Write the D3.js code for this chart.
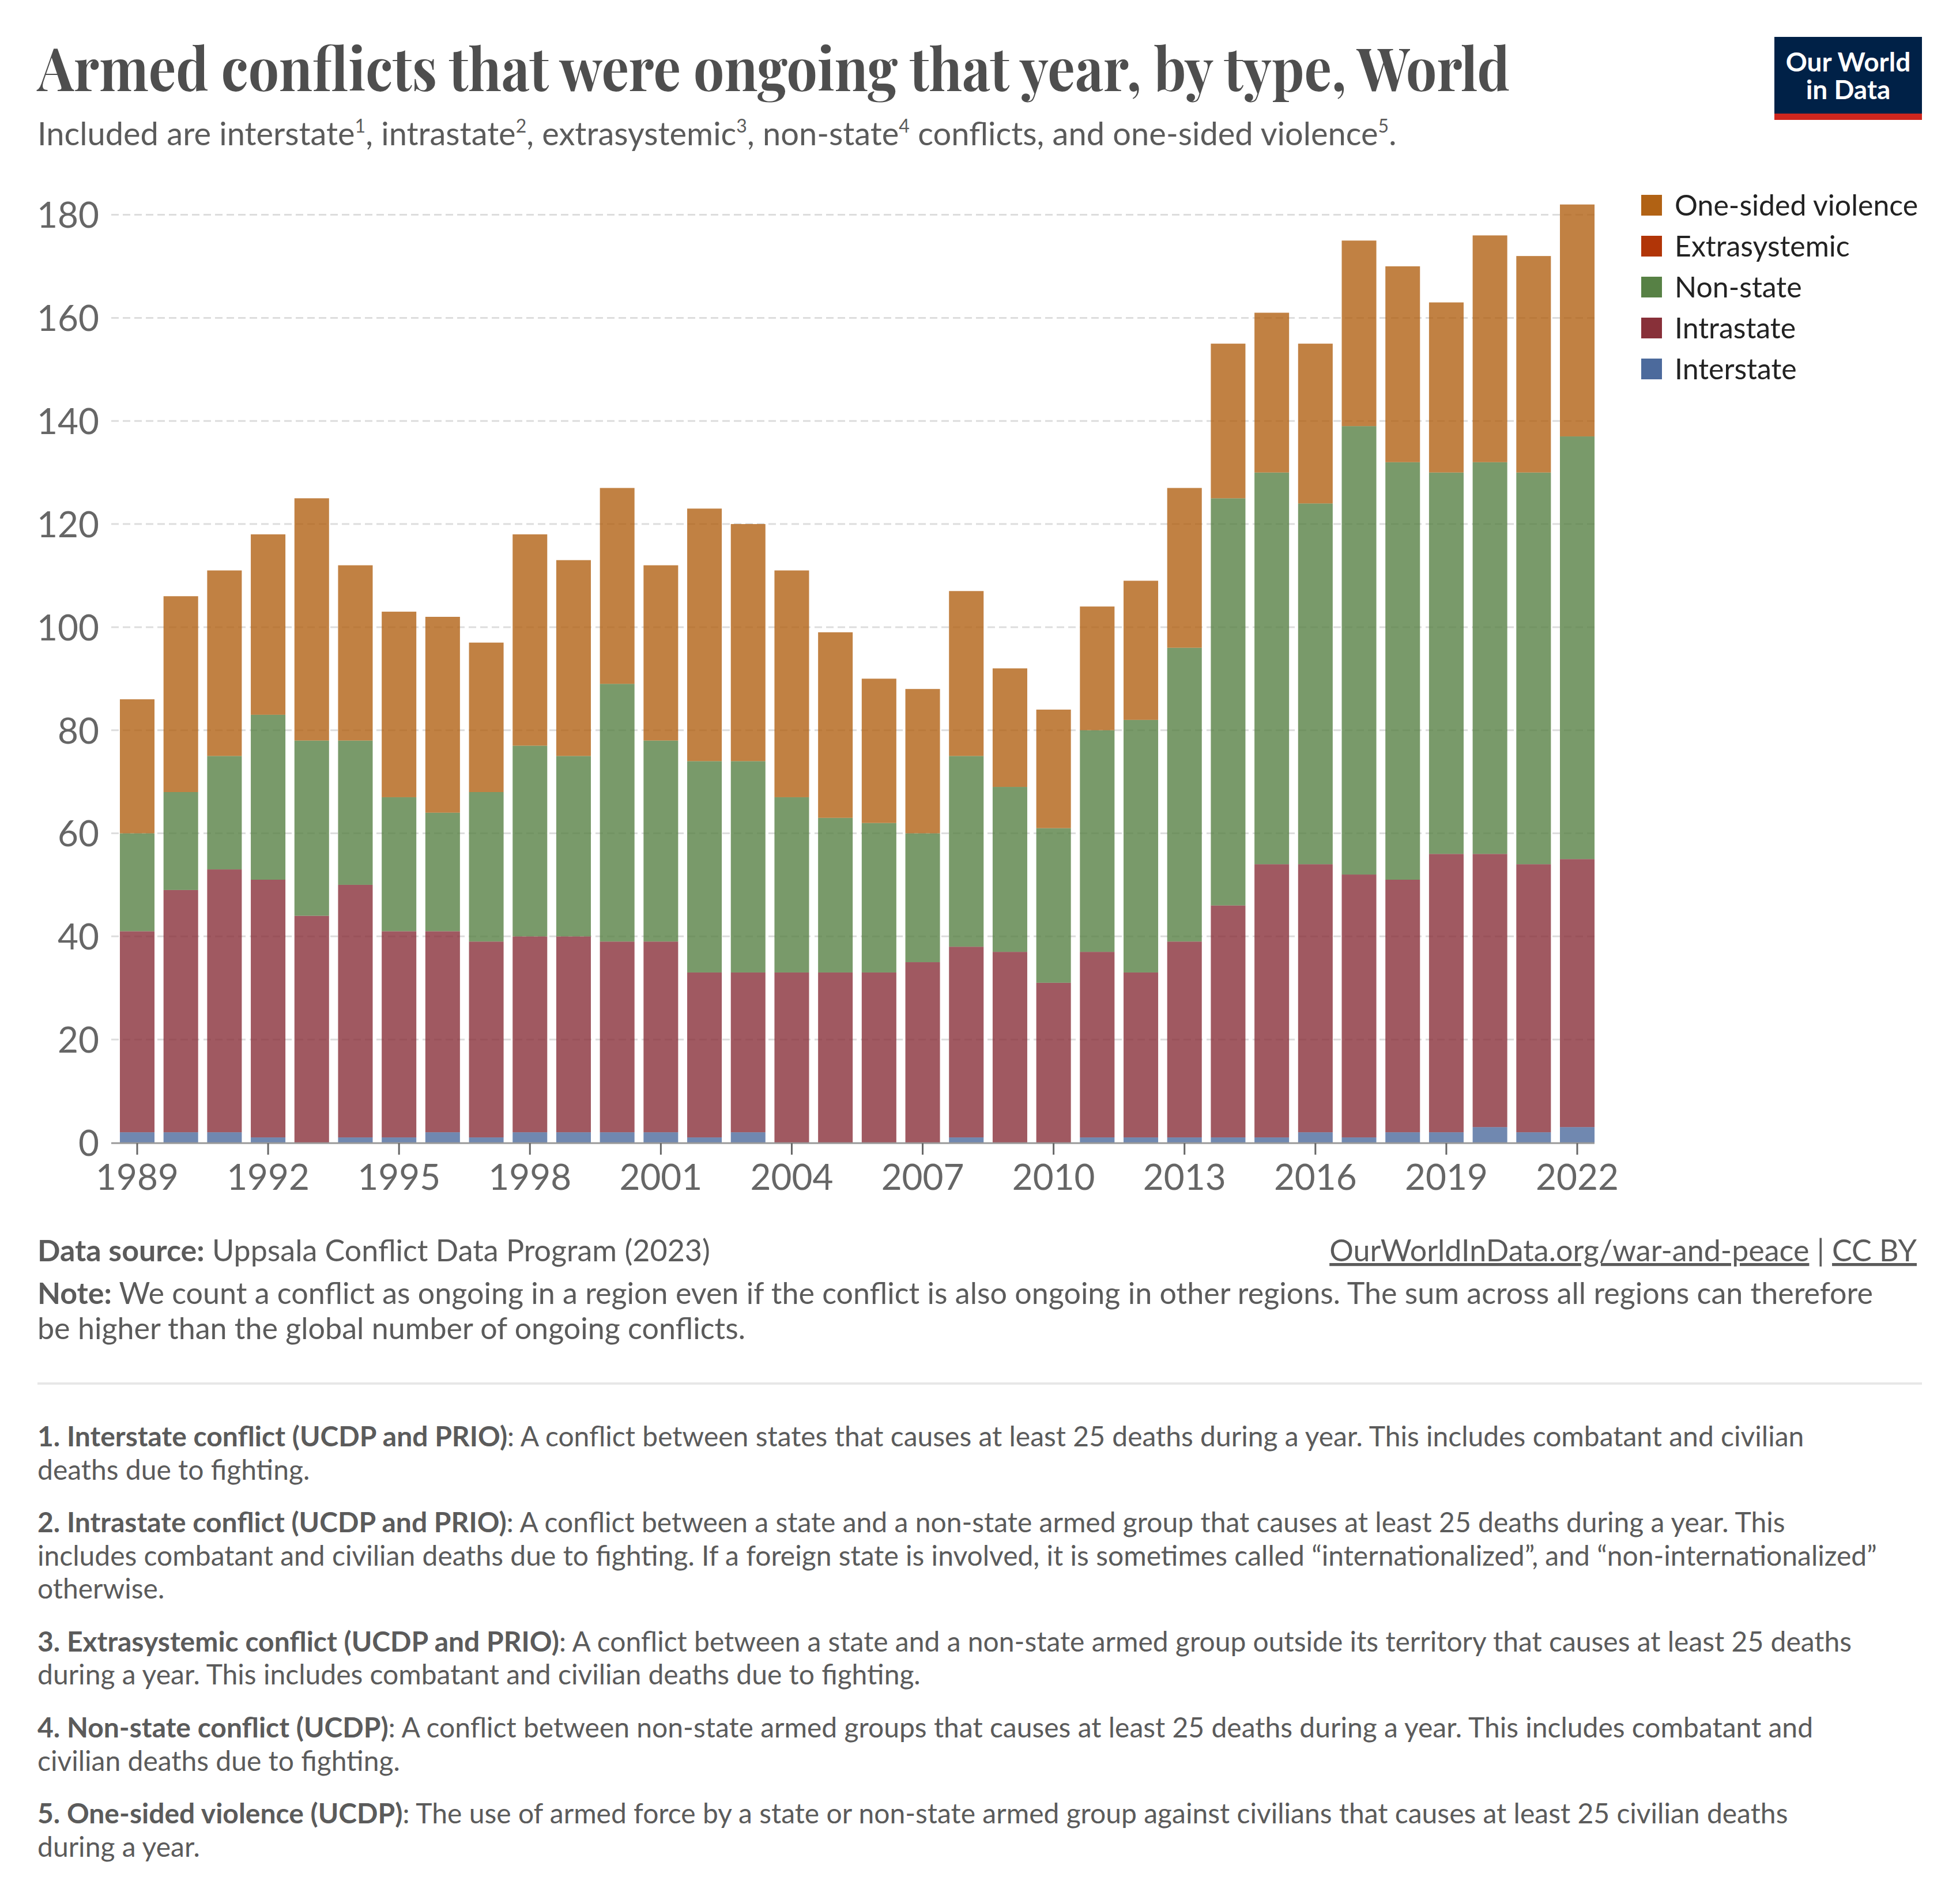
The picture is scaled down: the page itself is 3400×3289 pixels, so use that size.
<!DOCTYPE html>
<html><head><meta charset="utf-8">
<script src="https://cdn.jsdelivr.net/npm/d3@7/dist/d3.min.js"></script>
<style>body{margin:0;background:#fff} svg{display:block}</style>
</head><body>
<svg id="chart" width="3400" height="3289"></svg>
<script>
// ---- Data ----
const years = [1989,1990,1991,1992,1993,1994,1995,1996,1997,1998,1999,2000,2001,2002,2003,2004,2005,2006,2007,2008,2009,2010,2011,2012,2013,2014,2015,2016,2017,2018,2019,2020,2021,2022];
const interstate    = [2,2,2,1,0,1,1,2,1,2,2,2,2,1,2,0,0,0,0,1,0,0,1,1,1,1,1,2,1,2,2,3,2,3];
const intrastate    = [39,47,51,50,44,49,40,39,38,38,38,37,37,32,31,33,33,33,35,37,37,31,36,32,38,45,53,52,51,49,54,53,52,52];
const extrasystemic = [0,0,0,0,0,0,0,0,0,0,0,0,0,0,0,0,0,0,0,0,0,0,0,0,0,0,0,0,0,0,0,0,0,0];
const nonState      = [19,19,22,32,34,28,26,23,29,37,35,50,39,41,41,34,30,29,25,37,32,30,43,49,57,79,76,70,87,81,74,76,76,82];
const oneSided      = [26,38,36,35,47,34,36,38,29,41,38,38,34,49,46,44,36,28,28,32,23,23,24,27,31,30,31,31,36,38,33,44,42,45];
const seriesKeys   = ["Interstate","Intrastate","Extrasystemic","Non-state","One-sided violence"];
const seriesColors = ["#4C6A9C","#883039","#B13507","#578145","#B16214"];
const yTicks = [0,20,40,60,80,100,120,140,160,180];
const xTickYears = [1989,1992,1995,1998,2001,2004,2007,2010,2013,2016,2019,2022];

const seriesValues = [interstate, intrastate, extrasystemic, nonState, oneSided];
const table = years.map((yr,i)=>{
  const row = {year: yr};
  seriesKeys.forEach((k,j)=>row[k]=seriesValues[j][i]);
  return row;
});

const svg = d3.select("#chart");
const W = 3400, H = 3289;
svg.append("rect").attr("width",W).attr("height",H).attr("fill","#fff");

const FONT = "Lato, 'Noto Sans', sans-serif";
const TXT = "#5b5b5b";

// ---- Header ----
svg.append("text").attr("x",65).attr("y",158)
  .attr("font-family","'Playfair Display', 'Liberation Serif', 'DejaVu Serif', serif")
  .attr("font-weight",700).attr("font-size",104).attr("fill","#4e4e4e")
  .attr("textLength",2554).attr("lengthAdjust","spacingAndGlyphs")
  .text("Armed conflicts that were ongoing that year, by type, World");

const sub = svg.append("text").attr("x",65).attr("y",252)
  .attr("font-family",FONT).attr("font-size",56).attr("fill",TXT);
const subParts = [["Included are interstate","1"],[", intrastate","2"],[", extrasystemic","3"],[", non-state","4"],[" conflicts, and one-sided violence","5"],[".",null]];
let raised = false;
subParts.forEach(([t,s])=>{
  const ts = sub.append("tspan").text(t);
  if(raised){ ts.attr("dy",22); raised=false; }
  if(s){ sub.append("tspan").attr("dy",-22).attr("font-size",32).text(s); raised = true; }
});

// Logo
const logo = svg.append("g");
logo.append("rect").attr("x",3078).attr("y",64).attr("width",256).attr("height",144).attr("fill","#002147");
logo.append("rect").attr("x",3078).attr("y",197).attr("width",256).attr("height",11).attr("fill","#ce261e");
logo.append("text").attr("x",3206).attr("y",124).attr("text-anchor","middle")
  .attr("font-family",FONT).attr("font-weight",700).attr("font-size",46).attr("fill","#fff").text("Our World");
logo.append("text").attr("x",3206).attr("y",172).attr("text-anchor","middle")
  .attr("font-family",FONT).attr("font-weight",700).attr("font-size",46).attr("fill","#fff").text("in Data");

// ---- Scales ----
const x = d3.scaleBand().domain(years).range([200.4, 2773.6]).paddingInner(0.207).paddingOuter(0.1);
const y = d3.scaleLinear().domain([0,180]).range([1982, 372.6]);
const xLeft = 193, xRight = 2766;

// Gridlines
const grid = svg.append("g");
yTicks.filter(t=>t>0).forEach(t=>{
  grid.append("line").attr("x1",xLeft).attr("x2",xRight).attr("y1",y(t)).attr("y2",y(t))
    .attr("stroke","#dddddd").attr("stroke-width",3).attr("stroke-dasharray","13,7");
});

// Y axis labels
const yAxis = d3.axisLeft(y).tickValues(yTicks).tickSize(0).tickPadding(0);
const yg = svg.append("g").attr("transform",`translate(172,0)`).call(yAxis);
yg.select(".domain").remove();
yg.selectAll("text").attr("font-family",FONT).attr("font-size",62).attr("fill","#666").attr("dy","0.36em");

// Bars
const stack = d3.stack().keys(seriesKeys)(table);
svg.append("g").selectAll("g").data(stack).join("g")
  .attr("fill",(d,i)=>seriesColors[i]).attr("fill-opacity",0.8)
  .selectAll("rect").data(d=>d).join("rect")
  .attr("x",d=>x(d.data.year)).attr("width",x.bandwidth())
  .attr("y",d=>y(d[1])).attr("height",d=>Math.max(0,y(d[0])-y(d[1])));

// X axis
svg.append("line").attr("x1",xLeft).attr("x2",xRight).attr("y1",1983).attr("y2",1983)
  .attr("stroke","#999").attr("stroke-width",3);
const xAxis = d3.axisBottom(x).tickValues(xTickYears).tickSize(20).tickPadding(8);
const xg = svg.append("g").attr("transform","translate(0,1983)").call(xAxis);
xg.select(".domain").remove();
xg.selectAll(".tick line").attr("stroke","#666").attr("stroke-width",3);
xg.selectAll("text").attr("font-family",FONT).attr("font-size",62).attr("fill","#666").attr("dy","0.85em");

// Legend
const legendOrder = [4,2,3,1,0];
legendOrder.forEach((si,k)=>{
  const ty = 338 + k*71;
  svg.append("rect").attr("x",2847).attr("y",ty).attr("width",36).attr("height",36).attr("fill",seriesColors[si]);
  svg.append("text").attr("x",2905).attr("y",ty+18).attr("dy","0.36em")
    .attr("font-family",FONT).attr("font-size",50).attr("fill","#222").text(seriesKeys[si]);
});

// ---- Footer ----
function richLine(xp, yp, size, parts, anchor){
  const t = svg.append("text").attr("x",xp).attr("y",yp).attr("font-family",FONT)
    .attr("font-size",size).attr("fill",TXT).attr("text-anchor",anchor||"start");
  parts.forEach(p=>{
    const ts = t.append("tspan").text(p.t);
    if(p.b) ts.attr("font-weight",700);
    if(p.u) ts.attr("text-decoration","underline");
  });
  return t;
}
richLine(65,2188,52,[{t:"Data source:",b:1},{t:" Uppsala Conflict Data Program (2023)"}]);
richLine(3325,2188,52,[{t:"OurWorldInData.org/war-and-peace",u:1},{t:" | "},{t:"CC BY",u:1}],"end");
richLine(65,2262,52,[{t:"Note:",b:1},{t:" We count a conflict as ongoing in a region even if the conflict is also ongoing in other regions. The sum across all regions can therefore"}]);
richLine(65,2323,52,[{t:"be higher than the global number of ongoing conflicts."}]);

svg.append("line").attr("x1",65).attr("x2",3334).attr("y1",2400).attr("y2",2400)
  .attr("stroke","#e7e7e7").attr("stroke-width",4);

const notes = [
  {b:"1. Interstate conflict (UCDP and PRIO)", lines:[": A conflict between states that causes at least 25 deaths during a year. This includes combatant and civilian","deaths due to fighting."], y:[2509,2567]},
  {b:"2. Intrastate conflict (UCDP and PRIO)", lines:[": A conflict between a state and a non-state armed group that causes at least 25 deaths during a year. This","includes combatant and civilian deaths due to fighting. If a foreign state is involved, it is sometimes called \u201cinternationalized\u201d, and \u201cnon-internationalized\u201d","otherwise."], y:[2658,2716,2773]},
  {b:"3. Extrasystemic conflict (UCDP and PRIO)", lines:[": A conflict between a state and a non-state armed group outside its territory that causes at least 25 deaths","during a year. This includes combatant and civilian deaths due to fighting."], y:[2865,2922]},
  {b:"4. Non-state conflict (UCDP)", lines:[": A conflict between non-state armed groups that causes at least 25 deaths during a year. This includes combatant and","civilian deaths due to fighting."], y:[3014,3072]},
  {b:"5. One-sided violence (UCDP)", lines:[": The use of armed force by a state or non-state armed group against civilians that causes at least 25 civilian deaths","during a year."], y:[3163,3221]}
];
notes.forEach(n=>{
  n.lines.forEach((ln,i)=>{
    const parts = i===0 ? [{t:n.b,b:1},{t:ln}] : [{t:ln}];
    richLine(65,n.y[i],48,parts);
  });
});
</script>
</body></html>
